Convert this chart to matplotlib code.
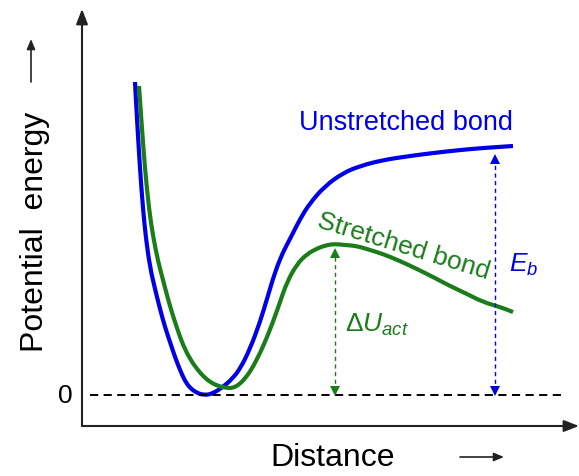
import numpy as np
import matplotlib.pyplot as plt
from matplotlib.path import Path
from matplotlib.patches import PathPatch

plt.rcParams['font.family'] = ['Liberation Sans', 'DejaVu Sans']
plt.rcParams['mathtext.fontset'] = 'custom'
plt.rcParams['mathtext.rm'] = 'Liberation Sans'
plt.rcParams['mathtext.it'] = 'Liberation Sans:italic'

# unstretched bond potential (distance, energy)
dist_u = [135, 137, 140, 143, 146, 150, 155, 160, 165, 170,
          175, 180, 185, 190, 197, 204, 212, 223, 232, 240,
          250, 260, 267, 275, 283, 290, 300, 310, 325, 343,
          360, 383, 410, 433, 460, 483, 513]
energy_u = [313, 276, 226, 186, 156, 128, 106, 86, 68, 53,
            38, 25, 14, 7, 2, 0, 1, 8, 16, 26,
            46, 73, 96, 123, 143, 156, 176, 192, 209, 222,
            229, 235, 239, 242, 245, 247, 249]

# stretched bond potential
dist_s = [139, 142, 145, 149, 153, 158, 163, 168, 173, 178,
          183, 190, 197, 203, 210, 218, 227, 233, 240, 247,
          253, 263, 273, 280, 287, 297, 307, 318, 327, 335,
          345, 357, 370, 383, 400, 417, 433, 450, 467, 483,
          500, 513]
energy_s = [309, 266, 226, 186, 159, 134, 115, 96, 79, 64,
            50, 36, 26, 19, 13, 9, 7, 7, 11, 19,
            28, 48, 73, 93, 113, 131, 141, 147, 150, 151,
            150, 149, 145, 141, 134, 126, 118, 109, 101, 93,
            88, 83]

x_eb = 495      # where E_b is measured
x_act = 335     # where the activation barrier is measured

blue = '#0000e6'
green = '#1a7d1a'

fig = plt.figure(figsize=(5.79, 4.77), dpi=100)
ax = fig.add_axes([0, 0, 1, 1])
ax.set_xlim(0, 579)
ax.set_ylim(-81, 396)
ax.axis('off')


def smooth_curve(xs, ys, color):
    # quadratic bezier through segment midpoints, points act as controls
    pts = np.column_stack([xs, ys]).astype(float)
    mids = (pts[:-1] + pts[1:]) / 2
    verts = [pts[0], mids[0]]
    codes = [Path.MOVETO, Path.LINETO]
    for i in range(1, len(pts) - 1):
        verts += [pts[i], mids[i]]
        codes += [Path.CURVE3, Path.CURVE3]
    verts.append(pts[-1])
    codes.append(Path.LINETO)
    ax.add_patch(PathPatch(Path(verts, codes), fill=False, edgecolor=color,
                           lw=3.0, capstyle='butt', joinstyle='round'))


# axes with arrow heads
ax.annotate('', xy=(82, 386), xytext=(82, -31),
            arrowprops=dict(arrowstyle='-|>,head_length=0.9,head_width=0.35',
                            color='#222222', lw=1.5, shrinkA=0, shrinkB=0))
ax.annotate('', xy=(579, -31), xytext=(82, -31),
            arrowprops=dict(arrowstyle='-|>,head_length=0.9,head_width=0.35',
                            color='#222222', lw=1.5, shrinkA=0, shrinkB=0))

# zero level
ax.plot([90, 565], [0, 0], color='black', lw=1.4, dashes=(4.2, 2.8))
ax.text(65, 0, '0', fontsize=19, ha='center', va='center')

# potential curves
smooth_curve(dist_u, energy_u, blue)
smooth_curve(dist_s, energy_s, green)

# dashed double arrows for E_b and dU_act
def double_arrow(x, top, color):
    ax.plot([x, x], [4, top - 4], color=color, lw=1.0, dashes=(3, 2.5))
    ax.plot([x], [top - 4], marker='^', color=color, ms=7, mew=0)
    ax.plot([x], [4], marker='v', color=color, ms=7, mew=0)

double_arrow(x_eb, np.interp(x_eb, dist_u, energy_u) - 8, blue)
double_arrow(x_act, np.interp(x_act, dist_s, energy_s) - 5, green)

ax.text(406, 273, 'Unstretched bond', color=blue, fontsize=19.5,
        ha='center', va='center')
ax.text(404, 150, 'Stretched bond', color=green, fontsize=19,
        ha='center', va='center', rotation=-17, rotation_mode='anchor')
ax.text(509, 124, r'$E_b$', color=blue, fontsize=19, ha='left',
        va='baseline')
ax.text(345, 64, r'$\Delta U_{act}$', color=green, fontsize=19, ha='left',
        va='baseline')

# axis titles with small arrows
ax.text(35, 164, 'Potential  energy', fontsize=23, rotation=90,
        ha='center', va='center')
ax.annotate('', xy=(31, 356), xytext=(31, 313),
            arrowprops=dict(arrowstyle='-|>,head_length=0.6,head_width=0.25',
                            color='#222222', lw=1.2, shrinkA=0, shrinkB=0))
ax.text(333, -62, 'Distance', fontsize=23, ha='center', va='center')
ax.annotate('', xy=(504, -62), xytext=(460, -62),
            arrowprops=dict(arrowstyle='-|>,head_length=0.6,head_width=0.25',
                            color='#222222', lw=1.2, shrinkA=0, shrinkB=0))

fig.savefig('out.png', dpi=100)
